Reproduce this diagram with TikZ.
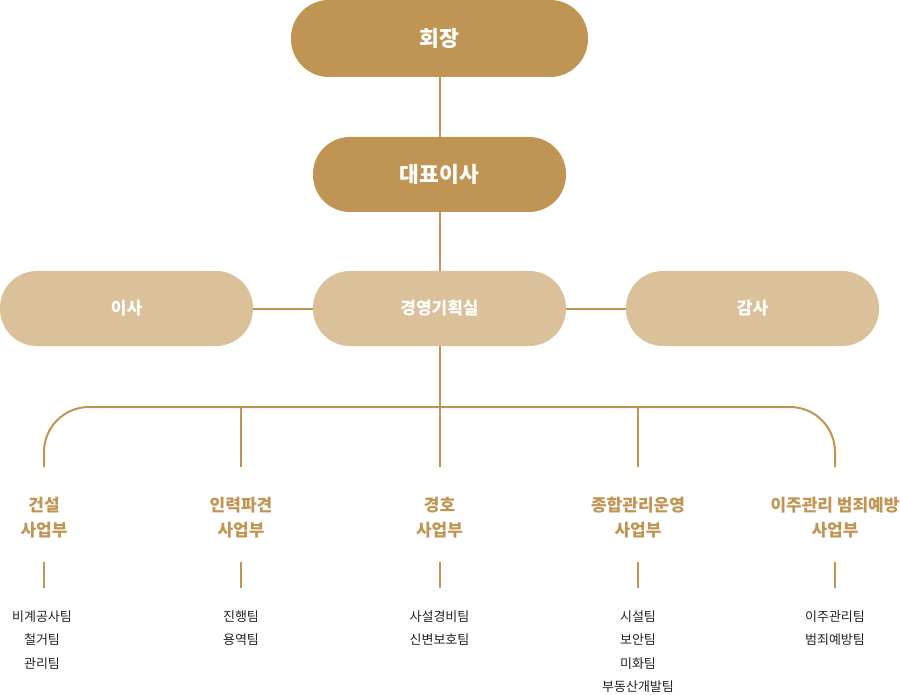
\documentclass[tikz,border=0pt]{standalone}
\usepackage{fontspec}
\setmainfont{Noto Sans CJK KR}
\definecolor{gdark}{HTML}{C09553}
\definecolor{glight}{HTML}{DAC19A}
\definecolor{gline}{HTML}{C09553}
\definecolor{txt}{HTML}{222222}
\begin{document}
\begin{tikzpicture}[x=1pt,y=-1pt,
  pill/.style={rectangle, rounded corners=37pt, minimum width=253pt, minimum height=75pt,
    inner sep=0pt, text=white, font=\fontsize{17}{19}\selectfont\bfseries},
  topbox/.style={pill, fill=gdark, font=\fontsize{21.5}{23}\selectfont\bfseries},
  midbox/.style={pill, fill=glight},
  conn/.style={draw=gline, line width=2pt},
  dept/.style={align=center, text=gdark, anchor=base, inner sep=0pt,
    font=\fontsize{17}{25}\selectfont\bfseries},
  team/.style={align=center, text=txt, anchor=base, inner sep=0pt,
    font=\fontsize{13}{23.3}\selectfont}
]
\useasboundingbox (0,0) rectangle (900,695);
% boxes
\node[topbox, minimum width=297pt, minimum height=77pt, rounded corners=38pt] (chair) at (439.5,38.5) {회장};
\node[topbox] (ceo) at (439.5,174.5) {대표이사};
\node[midbox] (isa) at (126.5,308.5) {이사};
\node[midbox] (plan) at (439.5,308.5) {경영기획실};
\node[midbox] (audit) at (752.5,308.5) {감사};
% bus coordinates
\coordinate (bus) at (439.5,407);
\coordinate (b1) at (44,467);
\coordinate (b2) at (241,467);
\coordinate (b3) at (439.5,467);
\coordinate (b4) at (638,467);
\coordinate (b5) at (835,467);
% connectors
\draw[conn] (chair) -- (ceo);
\draw[conn] (ceo) -- (plan);
\draw[conn] (isa) -- (plan);
\draw[conn] (plan) -- (audit);
\draw[conn] (plan) -- (bus);
\draw[conn, rounded corners=45pt] (b1) |- (bus) -| (b5);
\draw[conn] (b2 |- bus) -- (b2);
\draw[conn] (bus) -- (b3);
\draw[conn] (b4 |- bus) -- (b4);
% departments (anchor = baseline of last line)
\node[dept] (d1) at (44,536) {건설\\사업부};
\node[dept] (d2) at (241,536) {인력파견\\사업부};
\node[dept] (d3) at (439.5,536) {경호\\사업부};
\node[dept] (d4) at (638,536) {종합관리운영\\사업부};
\node[dept] (d5) at (835,536) {이주관리 범죄예방\\사업부};
% short lines
\foreach \i/\x in {1/44,2/241,3/439.5,4/638,5/835}{
  \coordinate (s\i a) at (\x,562);
  \coordinate (s\i b) at (\x,588);
  \draw[conn] (s\i a) -- (s\i b);
}
% teams (anchor = baseline of last line)
\node[team] (t1) at (42,668.1) {비계공사팀\\철거팀\\관리팀};
\node[team] (t2) at (241,644.8) {진행팀\\용역팀};
\node[team] (t3) at (439.5,644.8) {사설경비팀\\신변보호팀};
\node[team] (t4) at (638,691.4) {시설팀\\보안팀\\미화팀\\부동산개발팀};
\node[team] (t5) at (835,644.8) {이주관리팀\\범죄예방팀};
\end{tikzpicture}
\end{document}
